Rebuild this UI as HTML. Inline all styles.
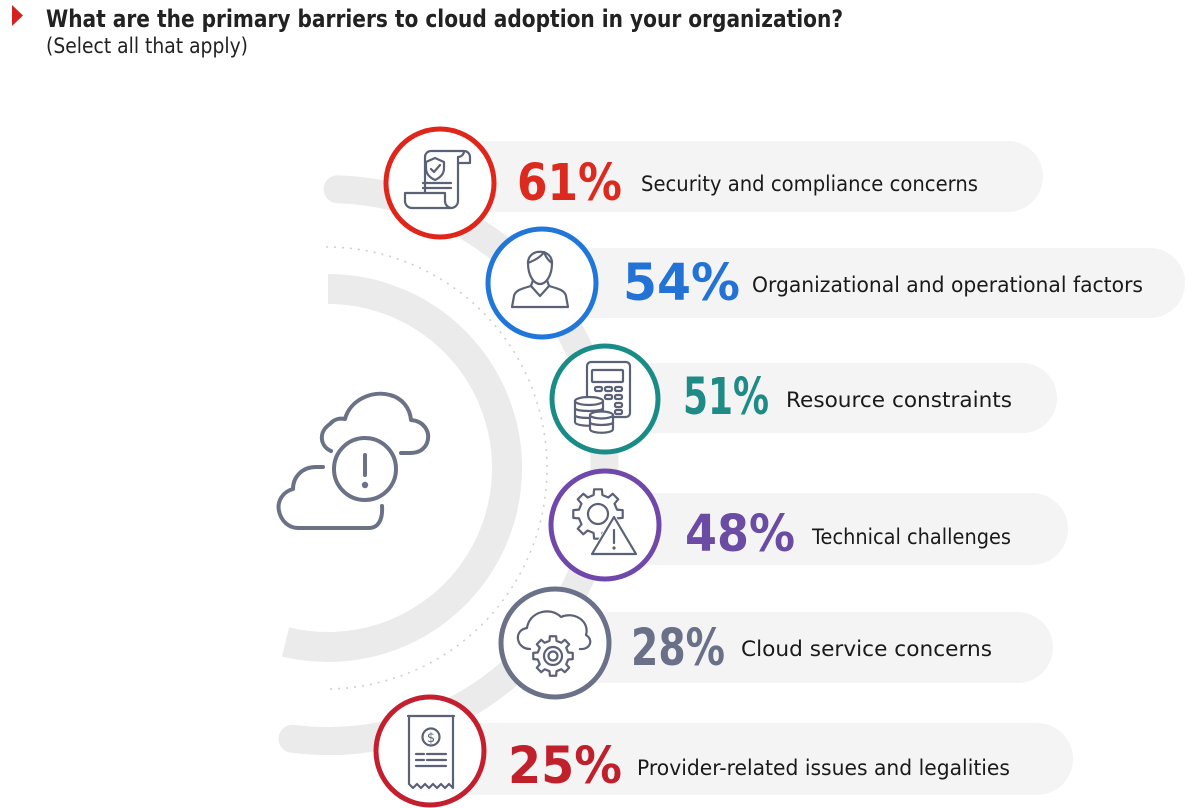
<!DOCTYPE html>
<html>
<head>
<meta charset="utf-8">
<style>
  html,body{margin:0;padding:0;background:#fff;}
  svg{display:block;}
  .lbl{font-family:"DejaVu Sans","Liberation Sans",sans-serif;font-size:21px;fill:#1a1a1a;}
  .pct{font-family:"DejaVu Sans","Liberation Sans",sans-serif;font-weight:bold;font-size:51px;}
  .ic{fill:none;stroke:#5b6176;stroke-width:2.2;stroke-linejoin:round;stroke-linecap:round;}
</style>
</head>
<body>
<svg width="1200" height="808" viewBox="0 0 1200 808" xmlns="http://www.w3.org/2000/svg">
  <rect x="0" y="0" width="1200" height="808" fill="#ffffff"/>

  <!-- Title -->
  <polygon points="12,5 23,15.5 12,26" fill="#d6201f"/>
  <text x="46" y="27" font-family="DejaVu Sans, Liberation Sans, sans-serif" font-weight="bold" font-size="24" fill="#222" textLength="797" lengthAdjust="spacingAndGlyphs">What are the primary barriers to cloud adoption in your organization?</text>
  <text x="46" y="53" font-family="DejaVu Sans, Liberation Sans, sans-serif" font-size="21" fill="#222" textLength="202" lengthAdjust="spacingAndGlyphs">(Select all that apply)</text>

  <!-- Background arcs -->
  <path d="M 337.6 189.2 A 276 276 0 1 1 292.5 738.7" fill="none" stroke="#ebebeb" stroke-width="28" stroke-linecap="round"/>
  <path d="M 328 289 A 179 179 0 1 1 285.6 641.9" fill="none" stroke="#ebebeb" stroke-width="30"/>
  <path d="M 326 247 A 221 221 0 1 1 326 689" fill="none" stroke="#cfcfcf" stroke-width="1.6" stroke-dasharray="2 6"/>

  <!-- Central cloud icon -->
  <g fill="none" stroke="#6b7186" stroke-width="4" stroke-linecap="round" stroke-linejoin="round">
    <path d="M 331 451 C 320 446, 318 432, 330 424 C 334 419, 340 418, 345 419 C 350 400, 372 390, 390 395 C 402 398, 410 408, 411 420 C 424 421, 431 432, 427 443 C 424 450, 418 453, 410 453 L 401 453"/>
    <path d="M 323 467 L 316 467 C 302 467, 293 477, 293 489 C 282 492, 277 502, 279 511 C 281 521, 289 528, 298 528 L 369 528 C 378 528, 383 520, 382 506"/>
    <circle cx="365" cy="469" r="31"/>
    <line x1="365" y1="455" x2="365" y2="475"/>
  </g>
  <circle cx="365" cy="485" r="3.2" fill="#6b7186"/>

  <!-- Pills -->
  <g fill="#f4f4f5">
    <rect x="440" y="141" width="603" height="71" rx="35.5"/>
    <rect x="542" y="248" width="643" height="70" rx="35"/>
    <rect x="605" y="363" width="452" height="70" rx="35"/>
    <rect x="605" y="493" width="463" height="72" rx="36"/>
    <rect x="555" y="612" width="498" height="71" rx="35.5"/>
    <rect x="430" y="723" width="643" height="72" rx="36"/>
  </g>

  <!-- Circles -->
  <g fill="#ffffff" stroke-width="5">
    <circle cx="440" cy="183" r="54" stroke="#e0251b"/>
    <circle cx="542" cy="283" r="54" stroke="#2176d9"/>
    <circle cx="605" cy="399" r="53" stroke="#1a8c88"/>
    <circle cx="605" cy="525" r="54" stroke="#7048ac"/>
    <circle cx="555" cy="643" r="54" stroke="#6b7189"/>
    <circle cx="430" cy="751" r="54" stroke="#c41f2e"/>
  </g>

  <!-- Icon 1: scroll with shield -->
  <g class="ic">
    <path d="M 425 193 V 157 A 6 6 0 0 1 431 151 H 464 A 6 6 0 0 1 470 157 V 163 H 458"/>
    <path d="M 458 157 A 6 6 0 0 0 464 151"/>
    <path d="M 458 157 V 201 A 7 7 0 0 1 451 208 H 412 A 7 7 0 0 1 405 201 V 193 H 445 V 201 A 7 7 0 0 0 451 208"/>
    <path d="M 435 158 L 444 162 V 168 Q 444 176 435 180 Q 426 176 426 168 V 162 Z"/>
    <path d="M 431 169 L 434 172 L 440 165"/>
    <line x1="423" y1="183" x2="451" y2="183"/>
    <line x1="423" y1="188" x2="451" y2="188"/>
  </g>

  <!-- Icon 2: person -->
  <g class="ic">
    <path d="M 528 263 C 528 248, 552 248, 552 263 C 552 276, 546 284, 540 284 C 534 284, 528 276, 528 263 Z"/>
    <path d="M 528 263 C 535 260, 541 257, 544 252 C 546 258, 549 261, 552 263"/>
    <path d="M 512 307 L 514 296 C 515 291, 520 289, 531 286 L 540 296 L 549 286 C 560 289, 565 291, 566 296 L 568 307 Z"/>
    <path d="M 533 280 L 531 286 M 547 280 L 549 286"/>
  </g>

  <!-- Icon 3: calculator + coins -->
  <g class="ic">
    <rect x="587" y="362" width="43" height="55" rx="4"/>
    <rect x="592" y="370" width="31" height="12" rx="1"/>
    <rect x="595" y="387" width="7" height="4" rx="1.5"/>
    <rect x="605" y="387" width="7" height="4" rx="1.5"/>
    <rect x="615" y="387" width="7" height="4" rx="1.5"/>
    <rect x="605" y="395" width="7" height="4" rx="1.5"/>
    <rect x="615" y="395" width="7" height="4" rx="1.5"/>
    <rect x="615" y="403" width="7" height="4" rx="1.5"/>
    <rect x="615" y="410" width="7" height="4" rx="1.5"/>
  </g>
  <g class="ic" style="fill:#fff">
    <path d="M 575 401 V 422 C 575 427, 603 427, 603 422 V 401 Z"/>
    <ellipse cx="589" cy="401" rx="14" ry="4"/>
    <path d="M 575 408 C 575 412, 603 412, 603 408 M 575 415 C 575 419, 603 419, 603 415" style="fill:none"/>
    <path d="M 590 415 V 429 C 590 434, 613 434, 613 429 V 415 Z"/>
    <ellipse cx="601.5" cy="415" rx="11.5" ry="3.5"/>
    <path d="M 590 422 C 590 426, 613 426, 613 422" style="fill:none"/>
  </g>

  <!-- Icon 4: gear + warning -->
  <path class="ic" transform="translate(598 514) scale(0.25)" vector-effect="non-scaling-stroke" d="M 76 -17.6 L 98.8 -15.6 L 98.8 15.6 L 76 17.6 L 66.1 41.3 L 80.9 58.8 L 58.8 80.9 L 41.3 66.1 L 17.6 76 L 15.6 98.8 L -15.6 98.8 L -17.6 76 L -41.3 66.1 L -58.8 80.9 L -80.9 58.8 L -66.1 41.3 L -76 17.6 L -98.8 15.6 L -98.8 -15.6 L -76 -17.6 L -66.1 -41.3 L -80.9 -58.8 L -58.8 -80.9 L -41.3 -66.1 L -17.6 -76 L -15.6 -98.8 L 15.6 -98.8 L 17.6 -76 L 41.3 -66.1 L 58.8 -80.9 L 80.9 -58.8 L 66.1 -41.3 Z"/>
  <circle class="ic" cx="598" cy="514" r="10"/>
  <polygon points="614,513 640,557 588,557" fill="#fff"/>
  <polygon class="ic" points="614,517 636,554 592,554" style="fill:#fff"/>
  <line class="ic" x1="614" y1="530" x2="614" y2="543"/>
  <circle cx="614" cy="548" r="1.6" fill="#5b6176"/>

  <!-- Icon 5: cloud + gear -->
  <path class="ic" d="M 530 649 C 516 649, 513 630, 527 628 C 529 612, 550 606, 561 617 C 574 611, 590 621, 586 635 C 594 640, 590 650, 580 649"/>
  <path class="ic" transform="translate(553 656) scale(0.2)" vector-effect="non-scaling-stroke" style="fill:#fff" d="M 76 -17.6 L 98.8 -15.6 L 98.8 15.6 L 76 17.6 L 66.1 41.3 L 80.9 58.8 L 58.8 80.9 L 41.3 66.1 L 17.6 76 L 15.6 98.8 L -15.6 98.8 L -17.6 76 L -41.3 66.1 L -58.8 80.9 L -80.9 58.8 L -66.1 41.3 L -76 17.6 L -98.8 15.6 L -98.8 -15.6 L -76 -17.6 L -66.1 -41.3 L -80.9 -58.8 L -58.8 -80.9 L -41.3 -66.1 L -17.6 -76 L -15.6 -98.8 L 15.6 -98.8 L 17.6 -76 L 41.3 -66.1 L 58.8 -80.9 L 80.9 -58.8 L 66.1 -41.3 Z"/>
  <circle class="ic" cx="553" cy="656" r="9"/>
  <circle class="ic" cx="553" cy="656" r="4.5"/>

  <!-- Icon 6: receipt -->
  <g class="ic">
    <path d="M 408 716 H 454"/>
    <path d="M 409 716 V 784 L 413 788 L 417 784 L 421 788 L 425 784 L 429 788 L 433 784 L 437 788 L 441 784 L 445 788 L 449 784 L 453 788 V 716"/>
    <circle cx="431" cy="737" r="8.5"/>
    <path d="M 416 754 H 424 M 427 754 H 446 M 416 760 H 424 M 427 760 H 446 M 416 766 H 446"/>
  </g>
  <text x="431" y="742" text-anchor="middle" font-family="DejaVu Sans, sans-serif" font-size="13" fill="#5b6176">$</text>

  <!-- Percentages -->
  <text class="pct" x="517" y="200" fill="#dc2a1f" textLength="105" lengthAdjust="spacingAndGlyphs">61%</text>
  <text class="pct" x="623" y="300" fill="#2372d6" textLength="117" lengthAdjust="spacingAndGlyphs">54%</text>
  <text class="pct" x="683" y="414" fill="#1f8b86" font-size="48" textLength="86" lengthAdjust="spacingAndGlyphs">51%</text>
  <text class="pct" x="685" y="551" fill="#6a4ca5" textLength="110" lengthAdjust="spacingAndGlyphs">48%</text>
  <text class="pct" x="631" y="665" fill="#697088" font-size="50" textLength="94" lengthAdjust="spacingAndGlyphs">28%</text>
  <text class="pct" x="508" y="783" fill="#c01f2c" textLength="114" lengthAdjust="spacingAndGlyphs">25%</text>

  <!-- Labels -->
  <text class="lbl" x="641" y="191" textLength="337" lengthAdjust="spacingAndGlyphs">Security and compliance concerns</text>
  <text class="lbl" x="752" y="292" textLength="391" lengthAdjust="spacingAndGlyphs">Organizational and operational factors</text>
  <text class="lbl" x="786" y="407" textLength="226" lengthAdjust="spacingAndGlyphs">Resource constraints</text>
  <text class="lbl" x="812" y="544" textLength="199" lengthAdjust="spacingAndGlyphs">Technical challenges</text>
  <text class="lbl" x="741" y="656" textLength="251" lengthAdjust="spacingAndGlyphs">Cloud service concerns</text>
  <text class="lbl" x="637" y="775" textLength="373" lengthAdjust="spacingAndGlyphs">Provider-related issues and legalities</text>
</svg>
</body>
</html>
